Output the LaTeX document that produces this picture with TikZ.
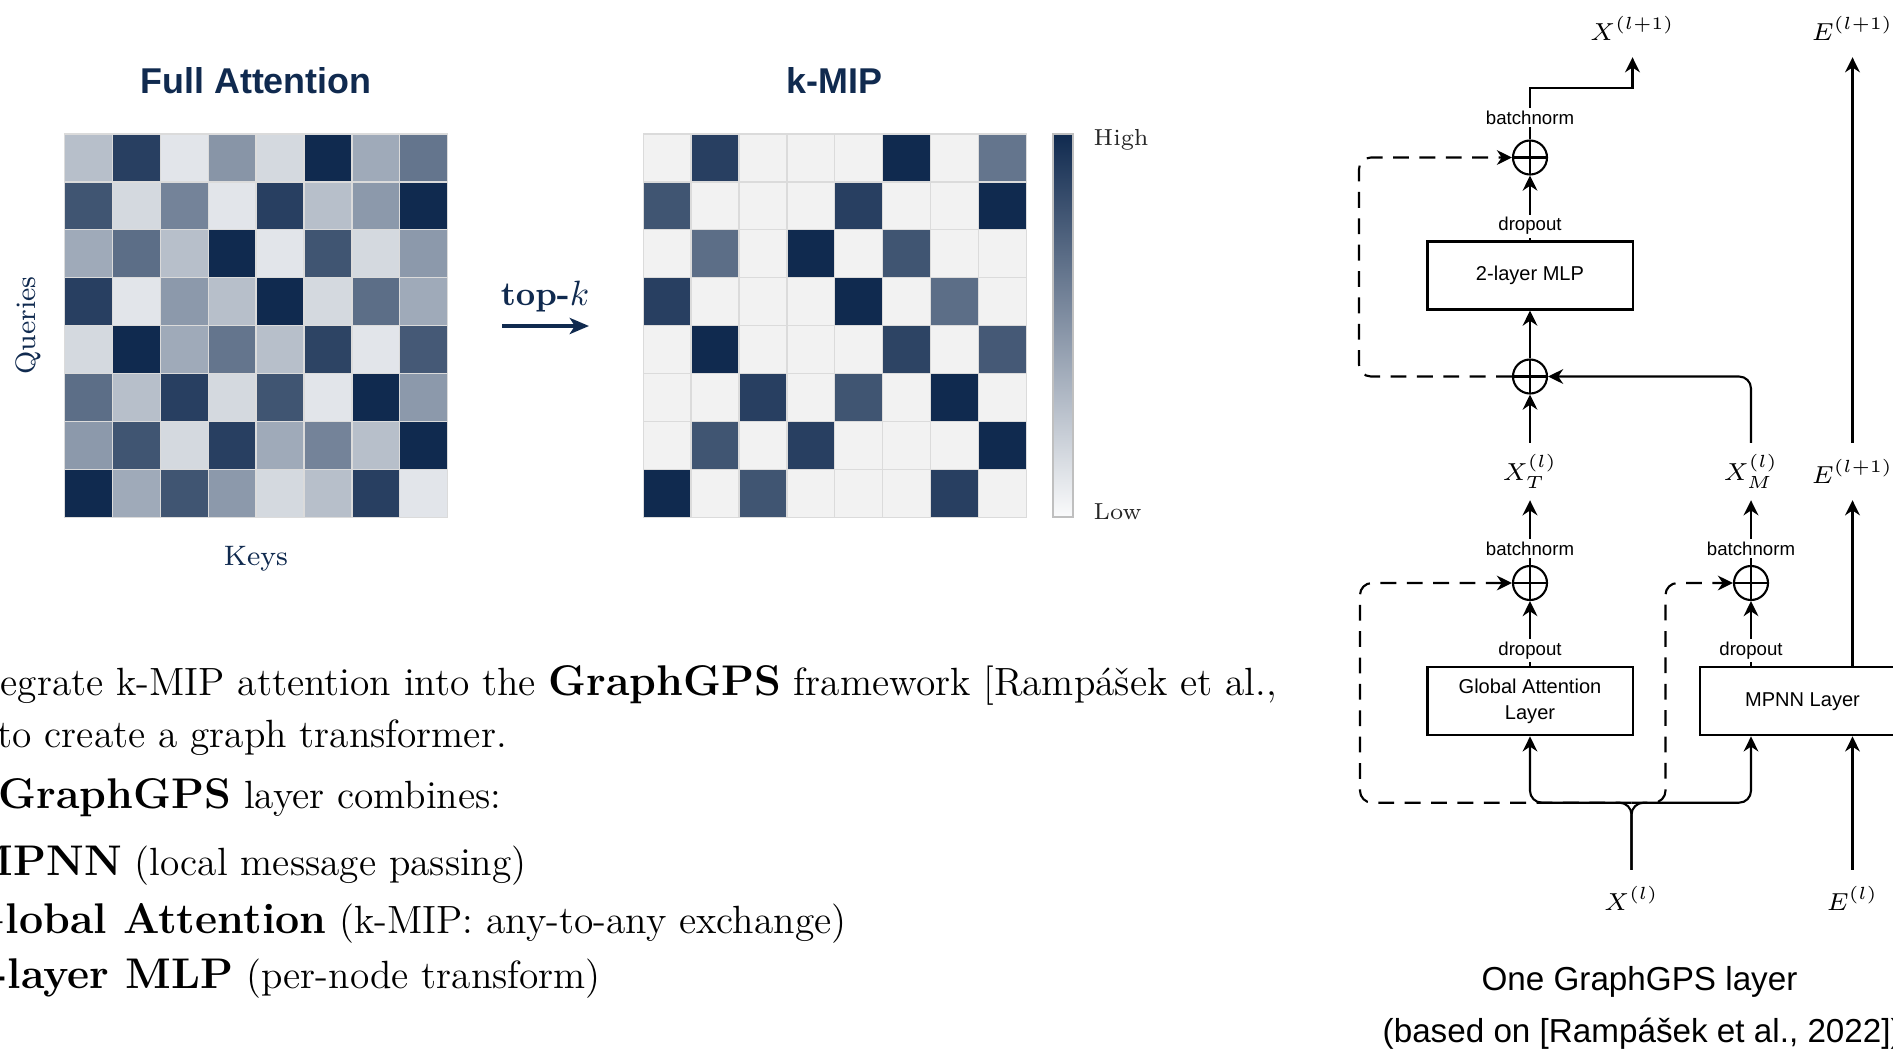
\documentclass[tikz,border=0pt]{standalone}
\usepackage{fontspec}
\usepackage{amsmath}
\usepackage{tikz}
\usetikzlibrary{arrows.meta,positioning}
\newfontfamily\diofont{Liberation Sans}
\newcommand\bfx[1]{{\fontsize{12.2}{14}\selectfont\bfseries #1}}
\definecolor{navy}{HTML}{102A4F}
\tikzstyle{cell}=[draw=black!14, line width=0.35pt]
\tikzstyle{conn}=[draw, line width=0.6pt, -{Stealth[length=4.3pt,width=4.2pt,inset=1.4pt]}]
\tikzstyle{resid}=[conn, dash pattern=on 4.5pt off 3pt, rounded corners=3.4pt]
\tikzstyle{sumop}=[circle, draw, line width=0.6pt, minimum size=0.34cm, inner sep=0pt, path picture={\draw[line width=0.6pt] (path picture bounding box.north) -- (path picture bounding box.south) (path picture bounding box.west) -- (path picture bounding box.east);}]
\tikzstyle{blk}=[draw, line width=0.6pt, minimum width=2.05cm, minimum height=0.68cm, inner sep=0pt, align=center, font=\diofont\fontsize{5.7}{7.3}\selectfont]
\tikzstyle{tag}=[fill=white, inner sep=0.8pt, font=\diofont\fontsize{5.3}{6}\selectfont]
\tikzstyle{lbl}=[inner sep=0pt, minimum height=0.56cm, font=\fontsize{7.5}{9}\selectfont]
\tikzstyle{para}=[anchor=base west, inner sep=0pt, font=\fontsize{11.2}{13}\selectfont]
\tikzstyle{title}=[text=navy, font=\diofont\bfseries\fontsize{10.2}{12}\selectfont]

\begin{document}
\begin{tikzpicture}[x=0.01cm, y=-0.01cm]
\useasboundingbox (0,0) rectangle (1893,1051);
\clip (0,0) rectangle (1893,1051);

% attention matrices: scores per row / top-3 cut
\foreach \vals/\cut [count=\r from 0] in {
  {30,90,12,50,18,100,40,65}/65,
  {80,18,58,12,90,30,48,100}/80,
  {40,68,30,100,12,80,18,48}/68,
  {90,12,48,30,100,18,68,40}/68,
  {18,100,40,65,30,88,12,78}/78,
  {68,30,90,18,80,12,100,48}/80,
  {48,80,18,90,40,58,30,100}/80,
  {100,40,80,48,18,30,90,12}/80}
{
  \foreach \v [count=\c from 0] in \vals {
    \draw[cell, fill=navy!\v] ({64.5+47.9*\c},{134+47.9*\r}) rectangle ++(47.9,47.9);
    \ifnum\v<\cut \def\kc{black!5}\else\def\kc{navy!\v}\fi
    \draw[cell, fill=\kc] ({643.2+47.9*\c},{134+47.9*\r}) rectangle ++(47.9,47.9);
  }
}
\node[title] (fulltitle) at (256,81) {Full Attention};
\node[title] (kmiptitle) at (834.7,81) {k-MIP};
\node[text=navy, font=\fontsize{8}{10}\selectfont] (keys) at (256,558.5) {Keys};
\node[text=navy, font=\fontsize{8}{10}\selectfont, rotate=90] (queries) at (28.6,325.5) {Queries};

% top-k arrow
\node[text=navy, anchor=base, inner sep=0pt, font=\bfseries\fontsize{9.6}{11}\selectfont] (topk) at (545,305) {top-$k$};
\coordinate (ka) at (502,326);
\coordinate (kb) at (589,326);
\draw[navy, line width=1.1pt, -{Stealth[length=5.5pt,width=4.6pt,inset=1.5pt]}] (ka) -- (kb);

% colour bar
\node[draw=black!25, line width=0.5pt, top color=navy, bottom color=navy!2, minimum width=0.2cm, minimum height=3.83cm, inner sep=0pt] (cbar) at (1063,325.5) {};
\node[anchor=west, inner sep=0pt, text=black!85, font=\fontsize{6.6}{8}\selectfont] (high) at (1093,139.5) {High};
\node[anchor=west, inner sep=0pt, text=black!85, font=\fontsize{6.6}{8}\selectfont] (low) at (1093,512) {Low};

% text block
\node[para] (intro1) at (0,695.7) {egrate k-MIP attention into the \bfx{GraphGPS} framework [Rampášek et al.,};
\node[para] (intro2) at (-3,747.2) {to create a graph transformer.};
\node[para] (combo) at (-2,808) {\bfx{GraphGPS} layer combines:};
\node[para] (itemmp) at (-33,875.3) {\bfx{MPNN} (local message passing)};
\node[para] (itemga) at (-33,933.7) {\bfx{Global Attention} (k-MIP: any-to-any exchange)};
\node[para] (itemml) at (-33,988) {\bfx{2-layer MLP} (per-node transform)};

% GraphGPS layer
\node[sumop] (sumT) at (1530,583) {};
\node[sumop] (sumM) at (1751,583) {};
\node[sumop] (sumA) at (1530,376.5) {};
\node[sumop] (sumF) at (1530,157.5) {};
\node[blk] (gal) at (1530,701.3) {Global Attention\\Layer};
\node[blk] (mpnn) at (1802.5,701.3) {MPNN Layer};
\node[blk] (mlp) at (1530,275.5) {2-layer MLP};
\node[lbl] (xin) at (1631.5,898.6) {$X^{(l)}$};
\node[lbl] (ein) at (1852.5,898.6) {$E^{(l)}$};
\node[lbl] (xt) at (1530,471.5) {$X_T^{(l)}$};
\node[lbl] (xm) at (1751,471.5) {$X_M^{(l)}$};
\node[lbl] (emid) at (1852.5,471.5) {$E^{(l+1)}$};
\node[lbl] (xout) at (1632.5,28.5) {$X^{(l+1)}$};
\node[lbl] (eout) at (1852.5,28.5) {$E^{(l+1)}$};
\coordinate (split) at (1631.5,802.7);

\draw[resid] (split) -- ++(-271.5,0) |- (sumT.west);
\draw[resid] (split) -- ++(34,0) |- (sumM.west);
\draw[resid] (sumA.west) -- ++(-153,0) |- (sumF.west);
\draw[conn, rounded corners=3.4pt] (xin.north) -- (split) -| (gal.south);
\draw[conn, rounded corners=3.4pt] (xin.north) -- (split) -| (sumM |- mpnn.south);
\draw[conn] (ein.north) -- (ein |- mpnn.south);
\draw[conn] (gal.north) -- node[tag, pos=.245] {dropout} (sumT.south);
\draw[conn] (sumM |- mpnn.north) -- node[tag, pos=.245] {dropout} (sumM.south);
\draw[conn] (sumT.north) -- node[tag, pos=.25] {batchnorm} (xt.south);
\draw[conn] (sumM.north) -- node[tag, pos=.25] {batchnorm} (xm.south);
\draw[conn] (emid |- mpnn.north) -- (emid.south);
\draw[conn] (xt.north) -- (sumA.south);
\draw[conn, rounded corners=3.4pt] (xm.north) |- (sumA.east);
\draw[conn] (sumA.north) -- (mlp.south);
\draw[conn] (mlp.north) -- node[tag, pos=.22] {dropout} (sumF.south);
\draw[conn] (sumF.north) -- node[tag, pos=.43] {batchnorm} ++(0,-51) -| (xout.south);
\draw[conn] (emid.north) -- (eout.south);

\node[font=\diofont\fontsize{9.45}{11}\selectfont] (cap1) at (1639.5,981.5) {One GraphGPS layer};
\node[anchor=west, inner sep=0pt, font=\diofont\fontsize{9.45}{11}\selectfont] (cap2) at (1382,1033.5) {(based on [Rampášek et al., 2022])};
\end{tikzpicture}
\end{document}
